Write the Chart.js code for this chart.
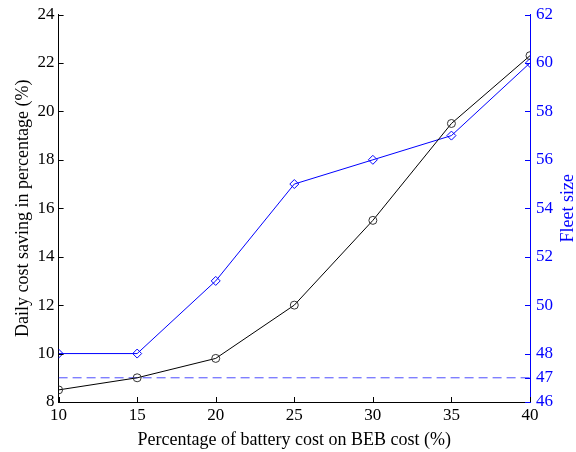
<!DOCTYPE html>
<html>
<head>
<meta charset="utf-8">
<script src="https://cdn.jsdelivr.net/npm/chart.js@4"></script>
<style>
  body { margin: 0; background: #fff; }
  canvas { display: block; }
</style>
</head>
<body>
<canvas id="chart" width="576" height="452"></canvas>
<script>
// data
const batteryShare = [10, 15, 20, 25, 30, 35, 40];
const costSaving = [8.5, 9.0, 9.8, 12.0, 15.5, 19.5, 22.3];
const fleetSize = [48, 48, 51, 55, 56, 57, 60];
const baselineFleet = 47;
const rightTicks = [46, 47, 48, 50, 52, 54, 56, 58, 60, 62];

const FONT = 'Liberation Serif, Times New Roman, serif';
const BLUE = '#0000ff';

// MATLAB-style inward tick marks + right title read bottom-to-top
const inwardTicks = {
  id: 'inwardTicks',
  afterDraw(chart) {
    const ctx = chart.ctx;
    const area = chart.chartArea;
    const len = 5;
    ctx.save();
    ctx.lineWidth = 1;
    const x = chart.scales.x;
    ctx.strokeStyle = '#000';
    x.ticks.forEach(t => {
      const px = Math.round(x.getPixelForValue(t.value)) + 0.5;
      ctx.beginPath();
      ctx.moveTo(px, area.bottom);
      ctx.lineTo(px, area.bottom - len);
      ctx.stroke();
    });
    const y = chart.scales.y;
    y.ticks.forEach(t => {
      const py = Math.round(y.getPixelForValue(t.value)) + 0.5;
      ctx.beginPath();
      ctx.moveTo(area.left, py);
      ctx.lineTo(area.left + len, py);
      ctx.stroke();
    });
    const y1 = chart.scales.y1;
    ctx.strokeStyle = BLUE;
    y1.ticks.forEach(t => {
      const py = Math.round(y1.getPixelForValue(t.value)) + 0.5;
      ctx.beginPath();
      ctx.moveTo(area.right, py);
      ctx.lineTo(area.right - len, py);
      ctx.stroke();
    });

    ctx.translate(568, (area.top + area.bottom) / 2);
    ctx.rotate(-Math.PI / 2);
    ctx.fillStyle = BLUE;
    ctx.font = '18px ' + FONT;
    ctx.textAlign = 'center';
    ctx.textBaseline = 'middle';
    ctx.fillText('Fleet size', 0, 0);
    ctx.restore();
  }
};

new Chart(document.getElementById('chart'), {
  type: 'line',
  data: {
    datasets: [
      {
        label: 'Daily cost saving',
        data: batteryShare.map((v, i) => ({ x: v, y: costSaving[i] })),
        yAxisID: 'y',
        borderColor: '#000',
        borderWidth: 1,
        pointStyle: 'circle',
        pointRadius: 4,
        pointBorderColor: '#333',
        pointBackgroundColor: 'rgba(0,0,0,0)',
        pointBorderWidth: 1,
        tension: 0
      },
      {
        label: 'Fleet size',
        data: batteryShare.map((v, i) => ({ x: v, y: fleetSize[i] })),
        yAxisID: 'y1',
        borderColor: BLUE,
        borderWidth: 1,
        pointStyle: 'rectRot',
        pointRadius: 4.5,
        pointBorderColor: BLUE,
        pointBackgroundColor: 'rgba(0,0,0,0)',
        pointBorderWidth: 1,
        tension: 0
      },
      {
        label: 'Baseline fleet',
        data: [
          { x: batteryShare[0], y: baselineFleet },
          { x: batteryShare[batteryShare.length - 1], y: baselineFleet }
        ],
        yAxisID: 'y1',
        borderColor: '#4d4dff',
        backgroundColor: '#4d4dff',
        borderWidth: 1,
        borderDash: [9, 5],
        pointRadius: 0
      }
    ]
  },
  options: {
    responsive: false,
    animation: false,
    layout: { padding: { top: 2, right: 17, left: 10, bottom: 1 } },
    plugins: { legend: { display: false }, tooltip: { enabled: false } },
    scales: {
      x: {
        type: 'linear',
        min: 10,
        max: 40,
        ticks: { stepSize: 5, color: '#000', padding: 3, font: { family: FONT, size: 17 } },
        grid: { drawOnChartArea: false, drawTicks: false },
        border: { color: '#000', width: 1 },
        title: {
          display: true,
          text: 'Percentage of battery cost on BEB cost (%)',
          color: '#000',
          padding: { top: 1, bottom: 0 },
          font: { family: FONT, size: 18 }
        }
      },
      y: {
        position: 'left',
        min: 8,
        max: 24,
        ticks: { stepSize: 2, color: '#000', padding: 4, font: { family: FONT, size: 17, lineHeight: 1 } },
        grid: { drawOnChartArea: false, drawTicks: false },
        border: { color: '#000', width: 1 },
        title: {
          display: true,
          text: 'Daily cost saving in percentage (%)',
          color: '#000',
          padding: { top: 2, bottom: 0 },
          font: { family: FONT, size: 18 }
        }
      },
      y1: {
        position: 'right',
        min: 46,
        max: 62,
        afterBuildTicks(scale) {
          scale.ticks = rightTicks.map(v => ({ value: v }));
        },
        ticks: { color: BLUE, padding: 6, font: { family: FONT, size: 17, lineHeight: 1 } },
        grid: { drawOnChartArea: false, drawTicks: false },
        border: { color: BLUE, width: 1 }
      }
    }
  },
  plugins: [inwardTicks]
});
</script>
</body>
</html>
